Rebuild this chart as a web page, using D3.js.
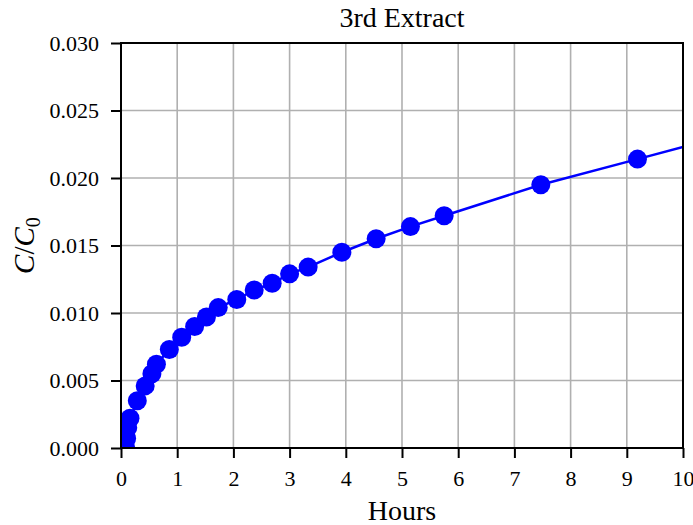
<!DOCTYPE html>
<html>
<head>
<meta charset="utf-8">
<script src="https://cdn.jsdelivr.net/npm/d3@7"></script>
<style>
  body { margin: 0; background: #fff; }
  svg { display: block; }
</style>
</head>
<body>
<svg id="chart" width="693" height="525"></svg>
<script>
// ---- data ----
const hours = [0.08, 0.10, 0.12, 0.16, 0.29, 0.43, 0.55, 0.63, 0.86, 1.08, 1.31, 1.52, 1.73, 2.06, 2.37, 2.69, 3.00, 3.33, 3.93, 4.54, 5.15, 5.75, 7.47, 9.19];
const ratio = [0.0001, 0.0007, 0.0015, 0.0022, 0.0035, 0.0046, 0.0055, 0.0062, 0.0073, 0.0082, 0.0090, 0.0097, 0.0104, 0.0110, 0.0117, 0.0122, 0.0129, 0.0134, 0.0145, 0.0155, 0.0164, 0.0172, 0.0195, 0.0214];
// fitted curve
const fitHours = [0.0, 0.08, 0.10, 0.12, 0.16, 0.29, 0.43, 0.55, 0.63, 0.86, 1.08, 1.31, 1.52, 1.73, 2.06, 2.37, 2.69, 3.00, 3.33, 3.93, 4.54, 5.15, 5.75, 7.47, 9.19, 10.0];
const fitRatio = [0.0000, 0.0001, 0.0007, 0.0015, 0.0022, 0.0035, 0.0046, 0.0055, 0.0062, 0.0073, 0.0082, 0.0090, 0.0097, 0.0104, 0.0110, 0.0117, 0.0122, 0.0129, 0.0134, 0.0145, 0.0155, 0.0164, 0.0172, 0.0195, 0.0214, 0.0223];
const xTicks = [0, 1, 2, 3, 4, 5, 6, 7, 8, 9, 10];
const yTicks = [0.000, 0.005, 0.010, 0.015, 0.020, 0.025, 0.030];
const title = "3rd Extract";
const xLabel = "Hours";

// ---- layout ----
const W = 693, H = 525;
const m = { left: 121, right: 10, top: 43, bottom: 77 };
const svg = d3.select("#chart");
const FONT = "'Liberation Serif', 'DejaVu Serif', serif";

const x = d3.scaleLinear().domain([0, 10]).range([m.left, W - m.right]);
const y = d3.scaleLinear().domain([0, 0.030]).range([H - m.bottom, m.top]);

// clip
svg.append("defs").append("clipPath").attr("id", "clip")
  .append("rect")
  .attr("x", m.left).attr("y", m.top)
  .attr("width", W - m.left - m.right).attr("height", H - m.top - m.bottom);

// grid
const grid = svg.append("g");
grid.selectAll(".gx").data(xTicks).join("line")
  .attr("x1", d => x(d)).attr("x2", d => x(d))
  .attr("y1", m.top).attr("y2", H - m.bottom)
  .attr("stroke", "#b0b0b0").attr("stroke-width", 1.6);
grid.selectAll(".gy").data(yTicks).join("line")
  .attr("x1", m.left).attr("x2", W - m.right)
  .attr("y1", d => y(d)).attr("y2", d => y(d))
  .attr("stroke", "#b0b0b0").attr("stroke-width", 1.6);

// data
const plot = svg.append("g").attr("clip-path", "url(#clip)");
const fit = fitHours.map((h, i) => [h, fitRatio[i]]);
plot.append("path")
  .datum(fit)
  .attr("fill", "none")
  .attr("stroke", "#0000ff")
  .attr("stroke-width", 2.5)
  .attr("d", d3.line().x(d => x(d[0])).y(d => y(d[1])));
plot.selectAll("circle").data(hours.map((h, i) => [h, ratio[i]])).join("circle")
  .attr("cx", d => x(d[0])).attr("cy", d => y(d[1]))
  .attr("r", 9.5)
  .attr("fill", "#0000ff");

// axes
const xAxis = d3.axisBottom(x).tickValues(xTicks).tickFormat(d3.format("d")).tickSize(10).tickPadding(12);
const yAxis = d3.axisLeft(y).tickValues(yTicks).tickFormat(d3.format(".3f")).tickSize(10).tickPadding(12);

const gx = svg.append("g").attr("transform", `translate(0,${H - m.bottom})`).call(xAxis);
const gy = svg.append("g").attr("transform", `translate(${m.left},0)`).call(yAxis);
[gx, gy].forEach(g => {
  g.select(".domain").remove();
  g.selectAll(".tick line").attr("stroke", "#000").attr("stroke-width", 2);
  g.selectAll(".tick text").attr("fill", "#000").style("font-family", FONT).style("font-size", "22px");
});

// frame
svg.append("rect")
  .attr("x", m.left).attr("y", m.top)
  .attr("width", W - m.left - m.right).attr("height", H - m.top - m.bottom)
  .attr("fill", "none").attr("stroke", "#000").attr("stroke-width", 2);

// title and labels
svg.append("text").attr("x", (m.left + W - m.right) / 2).attr("y", 27)
  .attr("text-anchor", "middle").style("font-family", FONT).style("font-size", "28px")
  .text(title);
svg.append("text").attr("x", (m.left + W - m.right) / 2).attr("y", 520)
  .attr("text-anchor", "middle").style("font-family", FONT).style("font-size", "28px")
  .text(xLabel);

const yl = svg.append("text")
  .attr("transform", `translate(34,${(m.top + H - m.bottom) / 2}) rotate(-90)`)
  .attr("text-anchor", "middle").style("font-family", FONT).style("font-size", "29px");
yl.append("tspan").style("font-style", "italic").text("C");
yl.append("tspan").text("/");
yl.append("tspan").style("font-style", "italic").text("C");
yl.append("tspan").attr("dy", 6).style("font-size", "20px").text("0");
</script>
</body>
</html>
